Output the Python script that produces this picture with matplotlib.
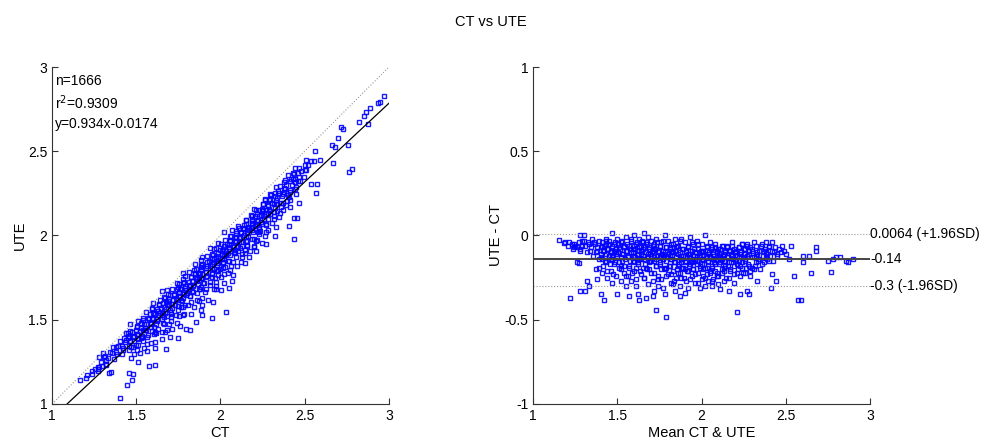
"""CT vs UTE agreement: regression scatter and Bland-Altman plot."""

import matplotlib
matplotlib.use("Agg")
import matplotlib.pyplot as plt
import numpy as np

plt.rcParams["font.family"] = ["Liberation Sans", "DejaVu Sans"]
plt.rcParams["font.size"] = 10

# per-sample mean of the two methods and their difference (UTE - CT)
mean_vals = [
    1.154, 1.18, 1.19, 1.22, 1.23, 1.24, 1.25, 1.26, 1.27, 1.28, 1.28, 1.29,
    1.30, 1.30, 1.27, 1.28, 1.31, 1.32, 1.33, 1.33, 1.34, 1.35,
    1.36, 1.37, 1.38, 1.38, 1.39, 1.40, 1.40, 1.41, 1.41, 1.42, 1.42, 1.43,
    1.43, 1.44, 1.44, 1.45, 1.39, 1.37, 1.41, 1.43,
    1.45, 1.46, 1.46, 1.47, 1.47, 1.47, 1.48, 1.48, 1.49, 1.49, 1.50, 1.50,
    1.50, 1.51, 1.51, 1.52, 1.52, 1.53, 1.53, 1.54, 1.54, 1.55, 1.46, 1.49,
    1.52, 1.55,
    1.55, 1.56, 1.56, 1.57, 1.57, 1.58, 1.58, 1.58, 1.59, 1.59, 1.60, 1.60,
    1.60, 1.61, 1.61, 1.62, 1.62, 1.62, 1.63, 1.63, 1.64, 1.64, 1.64, 1.65,
    1.65, 1.57, 1.59, 1.61, 1.63, 1.60,
    1.65, 1.66, 1.66, 1.66, 1.67, 1.67, 1.68, 1.68, 1.68, 1.69, 1.69, 1.70,
    1.70, 1.70, 1.71, 1.71, 1.72, 1.72, 1.72, 1.73, 1.73, 1.73, 1.74, 1.74,
    1.75, 1.75, 1.67, 1.69, 1.71, 1.72, 1.74, 1.73,
    1.75, 1.76, 1.76, 1.77, 1.77, 1.77, 1.78, 1.78, 1.79, 1.79, 1.79, 1.80,
    1.80, 1.80, 1.81, 1.81, 1.82, 1.82, 1.82, 1.83, 1.83, 1.84, 1.84, 1.84,
    1.85, 1.85, 1.76, 1.78, 1.81, 1.83, 1.79, 1.82,
    1.85, 1.86, 1.86, 1.87, 1.87, 1.88, 1.88, 1.88, 1.89, 1.89, 1.90, 1.90,
    1.90, 1.91, 1.91, 1.92, 1.92, 1.92, 1.93, 1.93, 1.94, 1.94, 1.95, 1.95,
    1.86, 1.88, 1.90, 1.92, 1.94, 1.87, 1.91, 1.93,
    1.95, 1.96, 1.96, 1.97, 1.97, 1.98, 1.98, 1.99, 1.99, 2.00, 2.00, 2.00,
    2.01, 2.01, 2.02, 2.02, 2.02, 2.03, 2.03, 2.04, 2.04, 2.05, 2.05, 1.97,
    1.99, 2.01, 2.03, 2.00, 1.96, 2.04,
    2.05, 2.06, 2.06, 2.07, 2.07, 2.08, 2.08, 2.09, 2.09, 2.10, 2.10, 2.10,
    2.11, 2.11, 2.12, 2.12, 2.13, 2.13, 2.13, 2.14, 2.14, 2.15, 2.07, 2.09,
    2.11, 2.13, 2.06, 2.12,
    2.15, 2.16, 2.16, 2.17, 2.17, 2.18, 2.18, 2.19, 2.19, 2.20, 2.20, 2.21,
    2.21, 2.22, 2.22, 2.23, 2.23, 2.24, 2.24, 2.25, 2.16, 2.19, 2.21, 2.23,
    2.25, 2.26, 2.26, 2.27, 2.27, 2.28, 2.28, 2.29, 2.29, 2.30, 2.30, 2.31,
    2.31, 2.32, 2.32, 2.33, 2.33, 2.34, 2.28, 2.30,
    2.35, 2.36, 2.37, 2.38, 2.38, 2.39, 2.40, 2.40, 2.41, 2.42, 2.42, 2.43,
    2.44, 2.45, 2.46, 2.47, 2.48, 2.49,
    2.50, 2.52, 2.53, 2.55, 2.57, 2.59, 2.60, 2.60, 2.64, 2.65, 2.68, 2.68,
    2.75, 2.77, 2.78, 2.80, 2.82, 2.86, 2.87, 2.90,
    # denser core of the cloud
    1.205, 1.215, 1.235, 1.245, 1.262, 1.275, 1.292, 1.305, 1.318, 1.326,
    1.342, 1.355, 1.368, 1.378, 1.388,
    1.401, 1.405, 1.409, 1.413, 1.417, 1.422, 1.426, 1.431, 1.435, 1.439,
    1.444, 1.448, 1.452, 1.457, 1.461, 1.466, 1.470, 1.474, 1.479, 1.483,
    1.488, 1.494,
    1.502, 1.506, 1.511, 1.515, 1.519, 1.524, 1.528, 1.533, 1.537, 1.541,
    1.546, 1.550, 1.555, 1.559, 1.563, 1.568, 1.572, 1.577, 1.581, 1.586,
    1.590, 1.596,
    1.603, 1.607, 1.611, 1.616, 1.620, 1.625, 1.629, 1.633, 1.638, 1.642,
    1.647, 1.651, 1.655, 1.660, 1.664, 1.669, 1.673, 1.677, 1.682, 1.686,
    1.691, 1.696,
    1.702, 1.706, 1.711, 1.715, 1.719, 1.724, 1.728, 1.733, 1.737, 1.741,
    1.746, 1.750, 1.755, 1.759, 1.763, 1.768, 1.772, 1.777, 1.781, 1.786,
    1.790, 1.796,
    1.803, 1.807, 1.811, 1.816, 1.820, 1.825, 1.829, 1.833, 1.838, 1.842,
    1.847, 1.851, 1.855, 1.860, 1.864, 1.869, 1.873, 1.877, 1.882, 1.886,
    1.891, 1.896,
    1.902, 1.906, 1.911, 1.915, 1.919, 1.924, 1.928, 1.933, 1.937, 1.941,
    1.946, 1.950, 1.955, 1.959, 1.963, 1.968, 1.972, 1.977, 1.981, 1.986,
    1.990, 1.996,
    2.003, 2.007, 2.011, 2.016, 2.020, 2.025, 2.029, 2.033, 2.038, 2.042,
    2.047, 2.051, 2.055, 2.060, 2.064, 2.069, 2.073, 2.077, 2.082, 2.086,
    2.091, 2.096,
    2.102, 2.106, 2.111, 2.115, 2.119, 2.124, 2.128, 2.133, 2.137, 2.141,
    2.146, 2.150, 2.155, 2.159, 2.163, 2.168, 2.172, 2.177, 2.181, 2.186,
    2.190, 2.196,
    2.202, 2.206, 2.211, 2.215, 2.219, 2.224, 2.228, 2.233, 2.237, 2.241,
    2.246, 2.250, 2.255, 2.259, 2.263, 2.268, 2.272, 2.277, 2.281, 2.286,
    2.302, 2.309, 2.316, 2.322, 2.329, 2.336, 2.342, 2.349, 2.356, 2.362,
    2.369, 2.376, 2.383, 2.391, 2.398, 2.406, 2.415, 2.424, 2.433, 2.446,
]
diff_vals = [
    -0.028, -0.047, -0.04, -0.37, -0.05, -0.07, -0.06, -0.155, -0.04, 0.0,
    -0.08, -0.06, 0.0, -0.03, -0.165, -0.33, -0.33, -0.27, -0.30, -0.05,
    -0.09, -0.02,
    -0.04, -0.20, -0.07, -0.26, -0.03, -0.11, -0.35, -0.06, -0.22, -0.09,
    -0.38, -0.02, -0.16, -0.08, -0.25, -0.12, -0.19, -0.10, -0.14, -0.05,
    -0.03, -0.09, -0.21, 0.015, -0.13, -0.28, -0.05, -0.17, -0.10, -0.24,
    -0.02, -0.12, -0.35, -0.07, -0.19, -0.04, -0.27, -0.11, -0.15, -0.06,
    -0.22, -0.09, -0.14, -0.08, -0.18, -0.30,
    -0.01, -0.13, -0.24, -0.06, -0.18, -0.03, -0.10, -0.27, -0.15, -0.08,
    0.00, -0.21, -0.12, -0.05, -0.30, -0.09, -0.17, -0.35, -0.02, -0.14,
    -0.07, -0.23, -0.11, -0.04, -0.19, -0.36, -0.12, -0.26, -0.38, -0.16,
    -0.08, 0.017, -0.14, -0.25, -0.04, -0.19, -0.11, -0.01, -0.29, -0.07,
    -0.16, -0.03, -0.22, -0.12, -0.09, -0.27, -0.05, -0.15, -0.33, -0.02,
    -0.18, -0.44, -0.10, -0.24, -0.06, -0.13, -0.37, -0.20, -0.36, -0.08,
    -0.30, -0.14,
    -0.17, -0.04, -0.26, -0.09, -0.13, -0.31, 0.0, -0.20, -0.07, -0.15,
    -0.485, -0.11, -0.23, -0.03, -0.18, -0.08, -0.14, -0.28, -0.05, -0.10,
    -0.21, -0.02, -0.16, -0.33, -0.07, -0.25, -0.12, -0.35, -0.12, -0.29,
    -0.19, -0.09,
    -0.13, -0.06, -0.22, -0.10, -0.30, -0.02, -0.16, -0.25, -0.08, -0.19,
    -0.12, -0.04, -0.34, -0.15, -0.27, -0.07, -0.21, -0.11, -0.01, -0.17,
    -0.09, -0.24, -0.14, -0.05, -0.18, -0.12, -0.20, -0.31, -0.16, -0.36,
    -0.10, -0.13,
    -0.20, -0.10, -0.28, -0.03, -0.15, -0.08, -0.22, -0.12, -0.31, -0.05,
    -0.17, -0.26, -0.09, -0.14, 0.0, -0.19, -0.30, -0.07, -0.23, -0.11,
    -0.16, -0.04, -0.21, -0.13, -0.18, -0.24, -0.13, -0.10, -0.15, -0.27,
    -0.12, -0.07, -0.19, -0.14, -0.26, -0.05, -0.17, -0.10, -0.22, -0.13,
    -0.29, -0.08, -0.16, -0.32, -0.06, -0.20, -0.11, -0.15, -0.27, -0.09,
    -0.18, -0.13, -0.10, -0.24, -0.12, -0.21, -0.30, -0.14,
    -0.06, -0.16, -0.25, -0.09, -0.20, -0.12, -0.04, -0.18, -0.28, -0.10,
    -0.14, -0.457, -0.22, -0.07, -0.15, -0.35, -0.11, -0.19, -0.05, -0.13,
    -0.33, -0.08, -0.17, -0.24,
    -0.08, -0.15, -0.22, -0.05, -0.33, -0.11, -0.18, -0.07, -0.24, -0.13,
    -0.09, -0.20, -0.04, -0.16, -0.12, -0.10, -0.27, -0.14, -0.35, -0.19,
    -0.06, -0.17, -0.09, -0.04, -0.13, -0.11, -0.07, -0.15, -0.31, -0.04,
    -0.23, -0.10, -0.27, -0.12, -0.08, -0.10, -0.06, -0.09,
    -0.11, -0.14, -0.06, -0.24, -0.385, -0.385, -0.12, -0.155, -0.12, -0.22,
    -0.07, -0.095, -0.15, -0.215, -0.14, -0.13, -0.13, -0.15, -0.155, -0.14,
    # denser core of the cloud
    -0.06, -0.04, -0.08, -0.05, -0.07, -0.09, -0.03, -0.06, -0.10, -0.04,
    -0.07, -0.12, -0.05, -0.09, -0.14,
    -0.07, -0.13, -0.04, -0.18, -0.09, -0.06, -0.15, -0.11, -0.03, -0.21,
    -0.08, -0.12, -0.05, -0.17, -0.10, -0.14, -0.06, -0.23, -0.09, -0.04,
    -0.16, -0.11,
    -0.10, -0.05, -0.16, -0.08, -0.20, -0.13, -0.03, -0.11, -0.18, -0.07,
    -0.14, -0.24, -0.09, -0.05, -0.12, -0.19, -0.08, -0.15, -0.02, -0.22,
    -0.10, -0.06,
    -0.13, -0.08, -0.19, -0.04, -0.11, -0.16, -0.06, -0.21, -0.09, -0.14,
    -0.03, -0.12, -0.25, -0.07, -0.17, -0.10, -0.05, -0.20, -0.13, -0.08,
    -0.15, -0.11,
    -0.15, -0.10, -0.06, -0.22, -0.13, -0.08, -0.18, -0.04, -0.12, -0.26,
    -0.09, -0.16, -0.06, -0.20, -0.11, -0.14, -0.03, -0.19, -0.10, -0.24,
    -0.07, -0.13,
    -0.12, -0.18, -0.07, -0.14, -0.23, -0.10, -0.05, -0.16, -0.27, -0.09,
    -0.13, -0.20, -0.06, -0.11, -0.17, -0.03, -0.22, -0.14, -0.08, -0.19,
    -0.12, -0.25,
    -0.16, -0.09, -0.21, -0.13, -0.06, -0.18, -0.26, -0.11, -0.15, -0.04,
    -0.20, -0.12, -0.08, -0.23, -0.14, -0.10, -0.17, -0.05, -0.28, -0.13,
    -0.19, -0.09,
    -0.14, -0.20, -0.09, -0.17, -0.25, -0.12, -0.06, -0.19, -0.15, -0.10,
    -0.22, -0.13, -0.08, -0.18, -0.27, -0.11, -0.16, -0.07, -0.21, -0.14,
    -0.09, -0.24,
    -0.11, -0.17, -0.08, -0.14, -0.22, -0.06, -0.12, -0.19, -0.10, -0.15,
    -0.25, -0.07, -0.13, -0.18, -0.09, -0.21, -0.11, -0.16, -0.06, -0.14,
    -0.23, -0.10,
    -0.09, -0.15, -0.12, -0.20, -0.07, -0.13, -0.18, -0.10, -0.05, -0.16,
    -0.22, -0.11, -0.08, -0.14, -0.19, -0.06, -0.12, -0.17, -0.09, -0.21,
    -0.08, -0.13, -0.18, -0.06, -0.11, -0.15, -0.09, -0.20, -0.05, -0.12,
    -0.16, -0.08, -0.10, -0.14, -0.06, -0.12, -0.09, -0.15, -0.07, -0.11,
]

# reported statistics
n_samples = 1666
r_squared = 0.9309
slope, intercept = 0.934, -0.0174
bias = -0.14
upper_loa = 0.0064
lower_loa = -0.3

mean_arr = np.array(mean_vals)
diff_arr = np.array(diff_vals)
ct = mean_arr - diff_arr / 2
ute = mean_arr + diff_arr / 2

marker_kw = dict(ls="none", marker="s", ms=3.3, mfc="none", mec=(0, 0, 1),
                 mew=1.0, alpha=0.9)


def matlab_axes(ax):
    ax.spines["top"].set_visible(False)
    ax.spines["right"].set_visible(False)
    for s in ("left", "bottom"):
        ax.spines[s].set_linewidth(0.8)
        ax.spines[s].set_color("#333333")
    ax.tick_params(direction="in", length=4, width=0.8, colors="#333333",
                   labelcolor="black", labelsize=10)


fig = plt.figure(figsize=(9.82, 4.41), dpi=100)
ax1 = fig.add_axes([0.053, 0.084, 0.343, 0.764])
ax2 = fig.add_axes([0.543, 0.084, 0.343, 0.764])

# left: UTE against CT with fitted line and identity
xs = np.array([1.0, 3.0])
ax1.plot(ct, ute, **marker_kw)
ax1.plot(xs, xs, ls=":", color="#999999", lw=0.8)
ax1.plot(xs, slope * xs + intercept, color="black", lw=0.9)
ax1.set_xlim(1, 3)
ax1.set_ylim(1, 3)
ax1.set_xticks([1, 1.5, 2, 2.5, 3])
ax1.set_yticks([1, 1.5, 2, 2.5, 3])
ax1.set_xticklabels(["1", "1.5", "2", "2.5", "3"])
ax1.set_yticklabels(["1", "1.5", "2", "2.5", "3"])
ax1.set_xlabel("CT", labelpad=2, fontsize=10.5)
ax1.set_ylabel("UTE", labelpad=1, fontsize=10.5)
matlab_axes(ax1)
ax1.text(1.02, 2.92, f"n={n_samples}", va="center")
ax1.text(1.02, 2.79, f"r$^2$={r_squared}", va="center")
ax1.text(1.02, 2.66, f"y={slope}x{intercept}", va="center")

# right: Bland-Altman difference against mean
ax2.plot(mean_arr, diff_arr, **marker_kw)
ax2.axhline(bias, color="#444444", lw=1.4)
ax2.axhline(upper_loa, color="#999999", ls=":", lw=0.8)
ax2.axhline(lower_loa, color="#999999", ls=":", lw=0.8)
ax2.set_xlim(1, 3)
ax2.set_ylim(-1, 1)
ax2.set_xticks([1, 1.5, 2, 2.5, 3])
ax2.set_yticks([-1, -0.5, 0, 0.5, 1])
ax2.set_xticklabels(["1", "1.5", "2", "2.5", "3"])
ax2.set_yticklabels(["-1", "-0.5", "0", "0.5", "1"])
ax2.set_xlabel("Mean CT & UTE", labelpad=2, fontsize=10.5)
ax2.set_ylabel("UTE - CT", labelpad=1, fontsize=10.5)
matlab_axes(ax2)
ax2.text(3.0, upper_loa, f"{upper_loa} (+1.96SD)", va="center", ha="left",
         clip_on=False)
ax2.text(3.0, bias, f"{bias}", va="center", ha="left", clip_on=False)
ax2.text(3.0, lower_loa, f"{lower_loa} (-1.96SD)", va="center", ha="left",
         clip_on=False)

fig.suptitle("CT vs UTE", x=0.5, y=0.965, fontsize=10.5)

fig.savefig("out.png", dpi=100)
